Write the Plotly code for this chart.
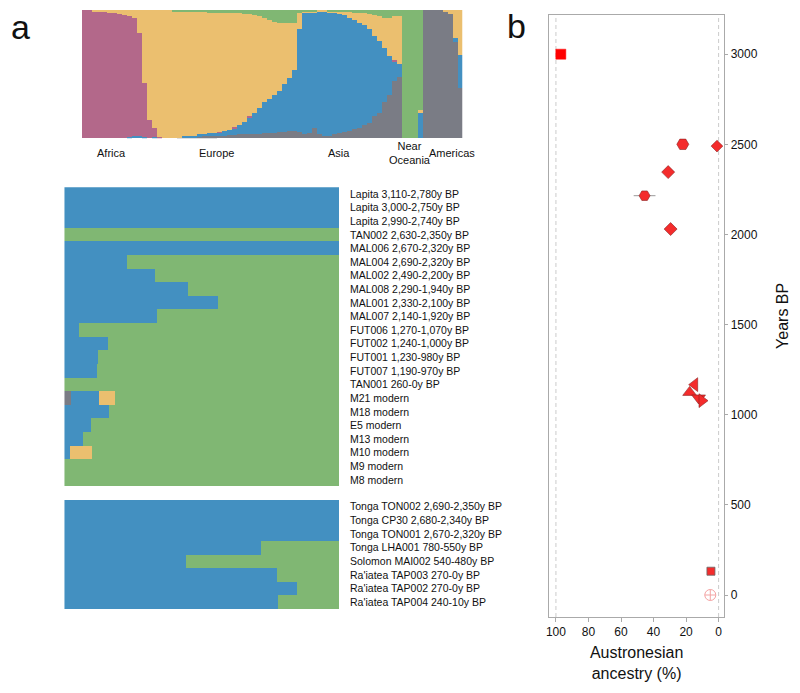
import plotly.graph_objects as go

# ---------------- Panel a (top): admixture proportions per column ----------------
adm_gray = [0, 0, 0, 0, 0, 0, 0, 0, 0, 0, 0, 0, 0, 0, 0, 0, 0, 0, 0, 0.005,
            0.01, 0.01, 0.01, 0.015, 0.015, 0.015, 0.015, 0.02, 0.02, 0.025, 0.025, 0.03, 0.03, 0.03, 0.035, 0.035,
            0.04, 0.04, 0.04, 0.05, 0.05, 0.06, 0.06, 0.05, 0.03, 0.04, 0.08, 0.03, 0.02, 0.02, 0.03, 0.04,
            0.05, 0.06, 0.07, 0.08, 0.10, 0.12, 0.17, 0.20, 0.28, 0.34, 0.45, 0.48, 0, 0, 0, 0,
            1.00, 1.00, 1.00, 1.00, 0.99, 0.97, 0.75, 0.39]
adm_blue = [0, 0, 0, 0, 0, 0, 0, 0, 0, 0.01, 0.02, 0.02, 0.01, 0, 0.01, 0, 0, 0, 0, 0,
            0.005, 0.01, 0.01, 0.015, 0.02, 0.025, 0.025, 0.025, 0.035, 0.04, 0.055, 0.07, 0.10, 0.13, 0.165, 0.205,
            0.24, 0.27, 0.30, 0.32, 0.37, 0.41, 0.47, 0.80, 0.95, 0.94, 0.90, 0.96, 0.97, 0.96, 0.95, 0.93,
            0.91, 0.88, 0.85, 0.82, 0.78, 0.73, 0.63, 0.56, 0.42, 0.30, 0.15, 0.10, 0, 0, 0, 0.20,
            0, 0, 0, 0, 0, 0, 0.03, 0.26]
adm_purple = [1.00, 1.00, 0.99, 0.99, 0.99, 0.98, 0.98, 0.97, 0.96, 0.94, 0.92, 0.80, 0.42, 0.14, 0.07, 0.01, 0, 0, 0, 0,
              0, 0, 0, 0, 0, 0, 0, 0.005, 0, 0, 0.01, 0, 0, 0.01, 0, 0,
              0, 0, 0, 0, 0, 0, 0, 0, 0, 0, 0, 0, 0, 0, 0, 0,
              0, 0, 0, 0, 0, 0, 0, 0, 0, 0, 0.01, 0, 0, 0, 0, 0,
              0, 0, 0, 0, 0, 0, 0, 0]
adm_yellow = [0, 0, 0.01, 0.01, 0.01, 0.02, 0.02, 0.03, 0.04, 0.05, 0.06, 0.18, 0.57, 0.86, 0.92, 0.99, 1.00, 1.00, 0.99, 0.985,
              0.975, 0.97, 0.965, 0.955, 0.95, 0.94, 0.94, 0.93, 0.925, 0.915, 0.89, 0.875, 0.84, 0.80, 0.76, 0.71,
              0.66, 0.61, 0.57, 0.53, 0.48, 0.43, 0.37, 0.13, 0.01, 0.01, 0.01, 0.01, 0.01, 0.01, 0.01, 0.02,
              0.03, 0.05, 0.06, 0.08, 0.10, 0.12, 0.16, 0.19, 0.24, 0.30, 0.34, 0.37, 0, 0, 0, 0.02,
              0, 0, 0, 0, 0.01, 0.03, 0.22, 0.35]
adm_green = [0, 0, 0, 0, 0, 0, 0, 0, 0, 0, 0, 0, 0, 0, 0, 0, 0, 0, 0.01, 0.01,
             0.01, 0.01, 0.015, 0.015, 0.015, 0.02, 0.02, 0.02, 0.02, 0.02, 0.02, 0.025, 0.03, 0.03, 0.04, 0.05,
             0.06, 0.08, 0.09, 0.10, 0.10, 0.10, 0.10, 0.02, 0.01, 0.01, 0.01, 0, 0, 0.01, 0.01, 0.01,
             0.01, 0.01, 0.02, 0.02, 0.02, 0.03, 0.04, 0.05, 0.06, 0.06, 0.05, 0.05, 1.00, 1.00, 1.00, 0.78,
             0, 0, 0, 0, 0, 0, 0, 0]
region_labels = ["Africa", "Europe", "Asia", "Near<br>Oceania", "Americas"]
region_pos = [5.4, 26.5, 50.8, 65.1, 73.4]

# ---------------- Panel a (middle): Vanuatu samples ----------------
van_labels = ["Lapita 3,110-2,780y BP", "Lapita 3,000-2,750y BP", "Lapita 2,990-2,740y BP",
              "TAN002 2,630-2,350y BP", "MAL006 2,670-2,320y BP", "MAL004 2,690-2,320y BP",
              "MAL002 2,490-2,200y BP", "MAL008 2,290-1,940y BP", "MAL001 2,330-2,100y BP",
              "MAL007 2,140-1,920y BP", "FUT006 1,270-1,070y BP", "FUT002 1,240-1,000y BP",
              "FUT001 1,230-980y BP", "FUT007 1,190-970y BP", "TAN001 260-0y BP",
              "M21 modern", "M18 modern", "E5 modern", "M13 modern", "M10 modern", "M9 modern", "M8 modern"]
van_gray = [0, 0, 0, 0, 0, 0, 0, 0, 0, 0, 0, 0, 0, 0, 0, 0.024, 0, 0, 0, 0, 0, 0]
van_blue = [1, 1, 1, 0, 1, 0.23, 0.33, 0.45, 0.56, 0.34, 0.055, 0.16, 0.125, 0.12, 0,
            0.105, 0.165, 0.10, 0.07, 0.023, 0, 0]
van_yellow = [0, 0, 0, 0, 0, 0, 0, 0, 0, 0, 0, 0, 0, 0, 0, 0.058, 0, 0, 0, 0.078, 0, 0]
van_green = [0, 0, 0, 1, 0, 0.77, 0.67, 0.55, 0.44, 0.66, 0.945, 0.84, 0.875, 0.88, 1,
             0.813, 0.835, 0.90, 0.93, 0.899, 1, 1]

# ---------------- Panel a (bottom): other Pacific samples ----------------
pac_labels = ["Tonga TON002 2,690-2,350y BP", "Tonga CP30 2,680-2,340y BP", "Tonga TON001 2,670-2,320y BP",
              "Tonga LHA001 780-550y BP", "Solomon MAI002 540-480y BP", "Ra'iatea TAP003 270-0y BP",
              "Ra'iatea TAP002 270-0y BP", "Ra'iatea TAP004 240-10y BP"]
pac_blue = [1, 1, 1, 0.717, 0.445, 0.774, 0.85, 0.78]
pac_green = [0, 0, 0, 0.283, 0.555, 0.226, 0.15, 0.22]

# ---------------- Panel b ----------------
b_ancestry = [97, 22, 1, 31, 45.5, 29.5, 14.7, 17.8, 12.3, 10.2, 4.7, 5.1]
b_years = [3000, 2500, 2490, 2346, 2215, 2030, 1167, 1124, 1093, 1078, 132, 0]
b_err = [0, 0, 0, 0, 6.7, 0, 0, 0, 0, 0, 0, 0]

# ---------------- styles ----------------
C_GRAY = "#7A7C85"
C_BLUE = "#4390C1"
C_PURPLE = "#B3688A"
C_YELLOW = "#EBBF6F"
C_GREEN = "#80B773"
FONT = "Liberation Sans, Arial, Helvetica, sans-serif"
W, H = 800, 693

def px_x(p):
    return p / W

def px_y(p):
    return 1 - p / H

fig = go.Figure()

cols = list(range(len(adm_gray)))
for vals, col in [(adm_gray, C_GRAY), (adm_blue, C_BLUE), (adm_purple, C_PURPLE),
                  (adm_yellow, C_YELLOW), (adm_green, C_GREEN)]:
    fig.add_trace(go.Bar(x=cols, y=vals, marker=dict(color=col, line=dict(width=0)),
                         xaxis="x", yaxis="y", showlegend=False))

for vals, col in [(van_gray, C_GRAY), (van_blue, C_BLUE), (van_yellow, C_YELLOW), (van_green, C_GREEN)]:
    fig.add_trace(go.Bar(y=van_labels, x=vals, orientation="h",
                         marker=dict(color=col, line=dict(width=0)),
                         xaxis="x2", yaxis="y2", showlegend=False))

for vals, col in [(pac_blue, C_BLUE), (pac_green, C_GREEN)]:
    fig.add_trace(go.Bar(y=pac_labels, x=vals, orientation="h",
                         marker=dict(color=col, line=dict(width=0)),
                         xaxis="x3", yaxis="y3", showlegend=False))

# Panel b markers
symbols = ["square", "hexagon2", "diamond", "diamond", "hexagon2", "diamond",
           "triangle-left", "triangle-up", "triangle-down", "triangle-right", "square", "circle-cross-open"]
sizes = [10, 12, 9, 10, 11, 10, 12, 12, 12, 12, 8, 11]
fills = ["#FF0000"] + ["#F42C2C"] * 9 + ["#F42C2C", "#F4A3A3"]
lines = ["#FF0000"] + ["#8A2424"] * 9 + ["#666666", "#F4A3A3"]
lwidths = [0.5] + [0.6] * 9 + [0.8, 1]
fig.add_trace(go.Scatter(x=b_ancestry, y=b_years, mode="markers",
                         error_x=dict(type="data", array=b_err, color="#999999", thickness=1, width=0),
                         marker=dict(symbol=symbols, size=sizes, color=fills, opacity=1,
                                     line=dict(color=lines, width=lwidths)),
                         xaxis="x4", yaxis="y4", showlegend=False))

for xv in [100, 0]:
    fig.add_shape(type="line", xref="x4", yref="y4 domain", x0=xv, x1=xv, y0=0, y1=1,
                  line=dict(color="#CCCCCC", width=1, dash="4px,3px"), layer="below")

annotations = []
for lab, pos in zip(region_labels, region_pos):
    annotations.append(dict(text=lab, x=pos, xref="x", y=px_y(153), yref="paper",
                            showarrow=False, xanchor="center", yanchor="middle",
                            font=dict(size=11, color="#111111", family=FONT)))
annotations.append(dict(text="a", x=px_x(18), y=px_y(27), xref="paper", yref="paper", showarrow=False,
                        xanchor="center", yanchor="middle", font=dict(size=34, color="#111111", family=FONT)))
annotations.append(dict(text="b", x=px_x(515), y=px_y(26), xref="paper", yref="paper", showarrow=False,
                        xanchor="center", yanchor="middle", font=dict(size=34, color="#111111", family=FONT)))

fig.update_layout(
    width=W, height=H, margin=dict(l=0, r=0, t=0, b=0),
    paper_bgcolor="white", plot_bgcolor="white",
    barmode="stack", bargap=0,
    font=dict(family=FONT, color="#111111"),
    annotations=annotations,
    xaxis=dict(domain=[px_x(79), px_x(461)], range=[-0.5, len(cols) - 0.5], visible=False),
    yaxis=dict(domain=[px_y(138.3), px_y(10)], range=[0, 1], visible=False),
    xaxis2=dict(domain=[px_x(61.7), px_x(337.3)], range=[0, 1], visible=False, anchor="y2"),
    yaxis2=dict(domain=[px_y(486.7), px_y(187.3)], anchor="x2", side="right", autorange="reversed",
                showline=False, ticks="", showgrid=False, zeroline=False, ticklabelstandoff=10,
                tickfont=dict(size=10.5, color="#111111")),
    xaxis3=dict(domain=[px_x(61.7), px_x(337.3)], range=[0, 1], visible=False, anchor="y3"),
    yaxis3=dict(domain=[px_y(609), px_y(500)], anchor="x3", side="right", autorange="reversed",
                showline=False, ticks="", showgrid=False, zeroline=False, ticklabelstandoff=10,
                tickfont=dict(size=10.5, color="#111111")),
    xaxis4=dict(domain=[px_x(548), px_x(724)], range=[104.3, -3.5], anchor="y4",
                tickvals=[100, 80, 60, 40, 20, 0], showgrid=False, zeroline=False,
                showline=True, mirror=True, linecolor="#AAAAAA", linewidth=1,
                ticks="outside", ticklen=4, tickcolor="#AAAAAA",
                tickfont=dict(size=12, color="#111111"),
                title=dict(text="Austronesian<br>ancestry (%)", font=dict(size=16, color="#111111"), standoff=8)),
    yaxis4=dict(domain=[px_y(617), px_y(14.7)], range=[-122, 3219], anchor="x4", side="right",
                tickvals=[0, 500, 1000, 1500, 2000, 2500, 3000], showgrid=False, zeroline=False,
                showline=True, mirror=True, linecolor="#AAAAAA", linewidth=1,
                ticks="outside", ticklen=3, tickcolor="#AAAAAA",
                tickfont=dict(size=12, color="#111111"),
                title=dict(text="Years BP", font=dict(size=16, color="#111111"), standoff=20)),
)

fig.write_html("out.html", config={"displayModeBar": False},
               post_script="document.body.style.margin='0';document.body.style.overflow='hidden';")
